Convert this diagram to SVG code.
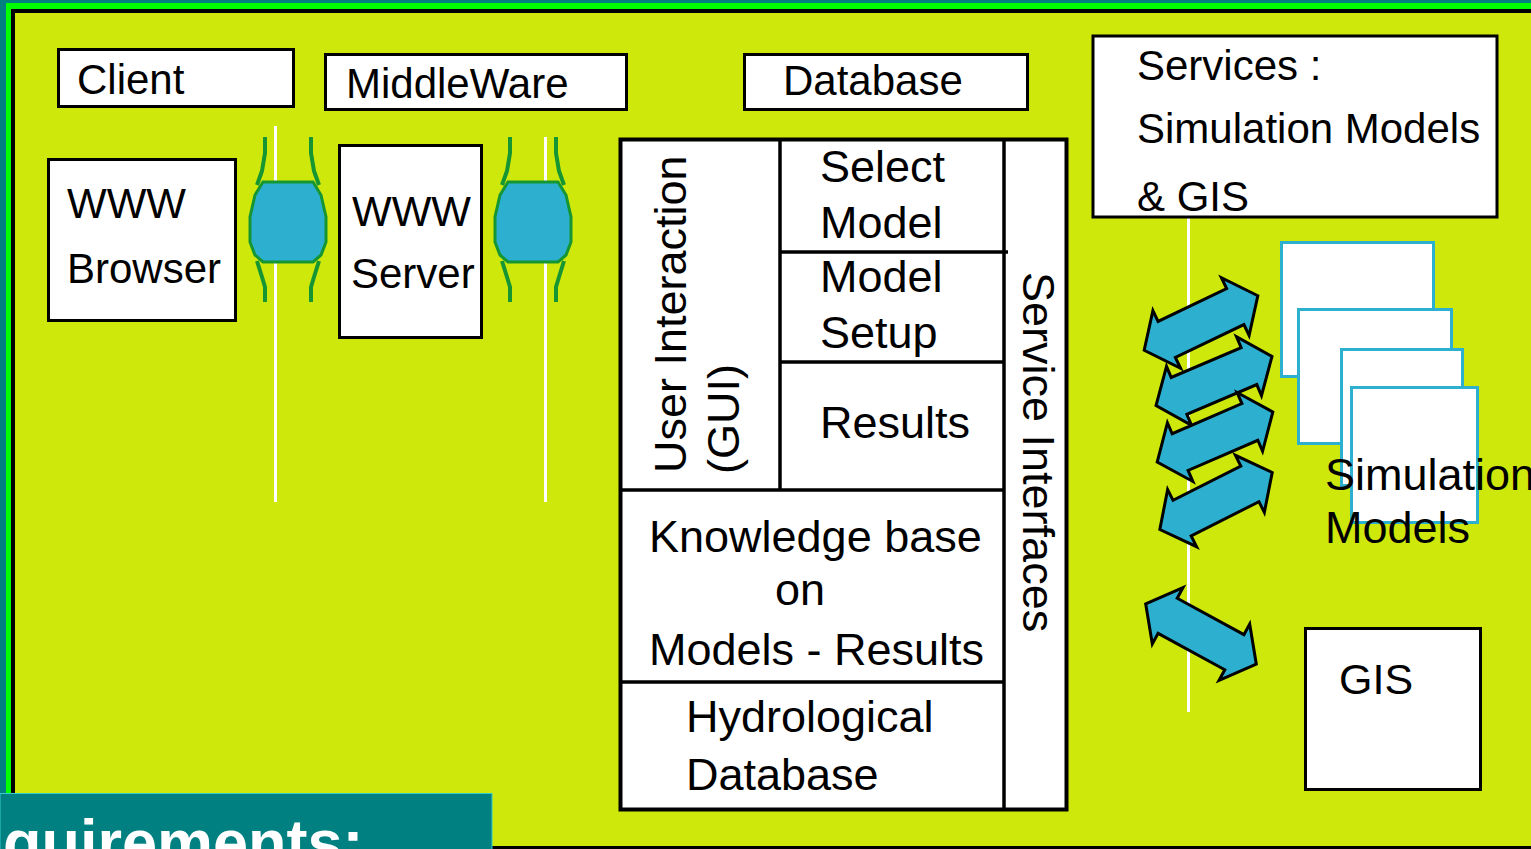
<svg xmlns="http://www.w3.org/2000/svg" width="1531" height="849" viewBox="0 0 1531 849">
<style>
.t{font-family:"Liberation Sans",Arial,sans-serif;fill:#000}
.box{fill:#fff;stroke:#000;stroke-width:3}
.ln{stroke:#000;stroke-width:3.5;fill:none}
.wl{stroke:#fff;stroke-width:3;fill:none}
.sim{fill:#fff;stroke:#2db0d0;stroke-width:3}
.arr{fill:#2db0d0;stroke:#000;stroke-width:3;stroke-linejoin:miter}
.blob{fill:#2db0d0;stroke:#169632;stroke-width:3}
.leg{stroke:#169632;stroke-width:4;fill:none}
</style>
<defs>
<polygon id="darr" class="arr" points="-63,0 -38,-32 -38,-20 38,-20 38,-32 63,0 38,32 38,20 -38,20 -38,32"/>
<g id="conn">
<path class="leg" d="M-23,0 L-23,16 L-26,34 L-31,48"/>
<path class="leg" d="M23,0 L23,16 L26,34 L31,48"/>
<path class="leg" d="M-31,124 L-26,140 L-23,150 L-23,165"/>
<path class="leg" d="M31,124 L26,140 L23,150 L23,165"/>
<path class="blob" d="M-25,45 L25,45 L33,58 L38,80 L38,105 L33,118 L25,125 L-25,125 L-33,118 L-38,105 L-38,80 L-33,58 Z"/>
</g>
</defs>

<g id="background">
<rect x="0" y="0" width="1531" height="849" fill="#008080"/>
<rect x="6" y="3" width="1525" height="846" fill="#00ff00"/>
<rect x="11" y="9" width="1520" height="840" fill="#000"/>
<rect x="15" y="13" width="1516" height="833" fill="#cfe80b"/>
</g>

<g id="connectors">
<line class="wl" x1="275.5" y1="126" x2="275.5" y2="502"/>
<line class="wl" x1="545.5" y1="137" x2="545.5" y2="502"/>
<line class="wl" x1="1188.5" y1="218" x2="1188.5" y2="712"/>
<use href="#conn" transform="translate(288,137)"/>
<use href="#conn" transform="translate(533,137)"/>
<use href="#darr" transform="translate(1201,323) rotate(-25.6)"/>
<use href="#darr" transform="translate(1214,381) rotate(-23)"/>
<use href="#darr" transform="translate(1215,437) rotate(-23.4)"/>
<use href="#darr" transform="translate(1216,501) rotate(-26.9)"/>
<use href="#darr" transform="translate(1201,634) rotate(28.6)"/>
</g>

<g id="client">
<rect class="box" x="58.5" y="49.5" width="235" height="57"/>
<text class="t" x="77" y="94" font-size="42">Client</text>
</g>
<g id="middleware">
<rect class="box" x="325.5" y="54.5" width="301" height="55"/>
<text class="t" x="346" y="98" font-size="42">MiddleWare</text>
</g>
<g id="database">
<rect class="box" x="744.5" y="54.5" width="283" height="55"/>
<text class="t" x="783" y="95" font-size="42">Database</text>
</g>
<g id="services">
<rect class="box" x="1093" y="36" width="404" height="181"/>
<text class="t" x="1137" y="80" font-size="42">Services :</text>
<text class="t" x="1137" y="143" font-size="42">Simulation Models</text>
<text class="t" x="1137" y="211" font-size="42">&amp; GIS</text>
</g>
<g id="www-browser">
<rect class="box" x="48.5" y="159.5" width="187" height="161"/>
<text class="t" x="67" y="218" font-size="42">WWW</text>
<text class="t" x="67" y="283" font-size="42">Browser</text>
</g>
<g id="www-server">
<rect class="box" x="339.5" y="145.5" width="142" height="192"/>
<text class="t" x="352" y="226" font-size="42">WWW</text>
<text class="t" x="351" y="288" font-size="42">Server</text>
</g>

<g id="system-table">
<rect x="620.5" y="139.5" width="446" height="670" fill="#fff" stroke="#000" stroke-width="4"/>
<line class="ln" x1="780" y1="139" x2="780" y2="490"/>
<line class="ln" x1="1004" y1="139" x2="1004" y2="810"/>
<line class="ln" x1="780" y1="252" x2="1008" y2="252"/>
<line class="ln" x1="780" y1="362" x2="1004" y2="362"/>
<line class="ln" x1="620" y1="490" x2="1004" y2="490"/>
<line class="ln" x1="620" y1="682" x2="1004" y2="682"/>
<text class="t" font-size="45" transform="translate(686,473) rotate(-90)">User Interaction</text>
<text class="t" font-size="45" transform="translate(739,474) rotate(-90)">(GUI)</text>
<text class="t" x="820" y="182" font-size="45">Select</text>
<text class="t" x="820" y="238" font-size="45">Model</text>
<text class="t" x="820" y="292" font-size="45">Model</text>
<text class="t" x="820" y="348" font-size="45">Setup</text>
<text class="t" x="820" y="438" font-size="45">Results</text>
<text class="t" x="649" y="552" font-size="45">Knowledge base</text>
<text class="t" x="775" y="605" font-size="45">on</text>
<text class="t" x="649" y="665" font-size="45">Models - Results</text>
<text class="t" x="686" y="732" font-size="45">Hydrological</text>
<text class="t" x="686" y="790" font-size="45">Database</text>
<text class="t" font-size="45" transform="translate(1023,272) rotate(90)">Service Interfaces</text>
</g>

<g id="simulation-models">
<rect class="sim" x="1281.5" y="242.5" width="152" height="134"/>
<rect class="sim" x="1298.5" y="309.5" width="153" height="134"/>
<rect class="sim" x="1341.5" y="349.5" width="121" height="136"/>
<rect class="sim" x="1351.5" y="387.5" width="126" height="135"/>
<text class="t" x="1325" y="490" font-size="45">Simulation</text>
<text class="t" x="1325" y="543" font-size="45">Models</text>
</g>

<g id="gis">
<rect class="box" x="1305.5" y="628.5" width="175" height="161"/>
<text class="t" x="1339" y="694" font-size="43">GIS</text>
</g>

<g id="title-bar">
<rect x="0" y="793.5" width="492" height="60" fill="#008080" stroke="#33cccc" stroke-width="1"/>
<text x="3" y="864" font-family="'Liberation Sans',Arial,sans-serif" font-weight="bold" font-size="63" fill="#fff">quirements:</text>
</g>
</svg>
